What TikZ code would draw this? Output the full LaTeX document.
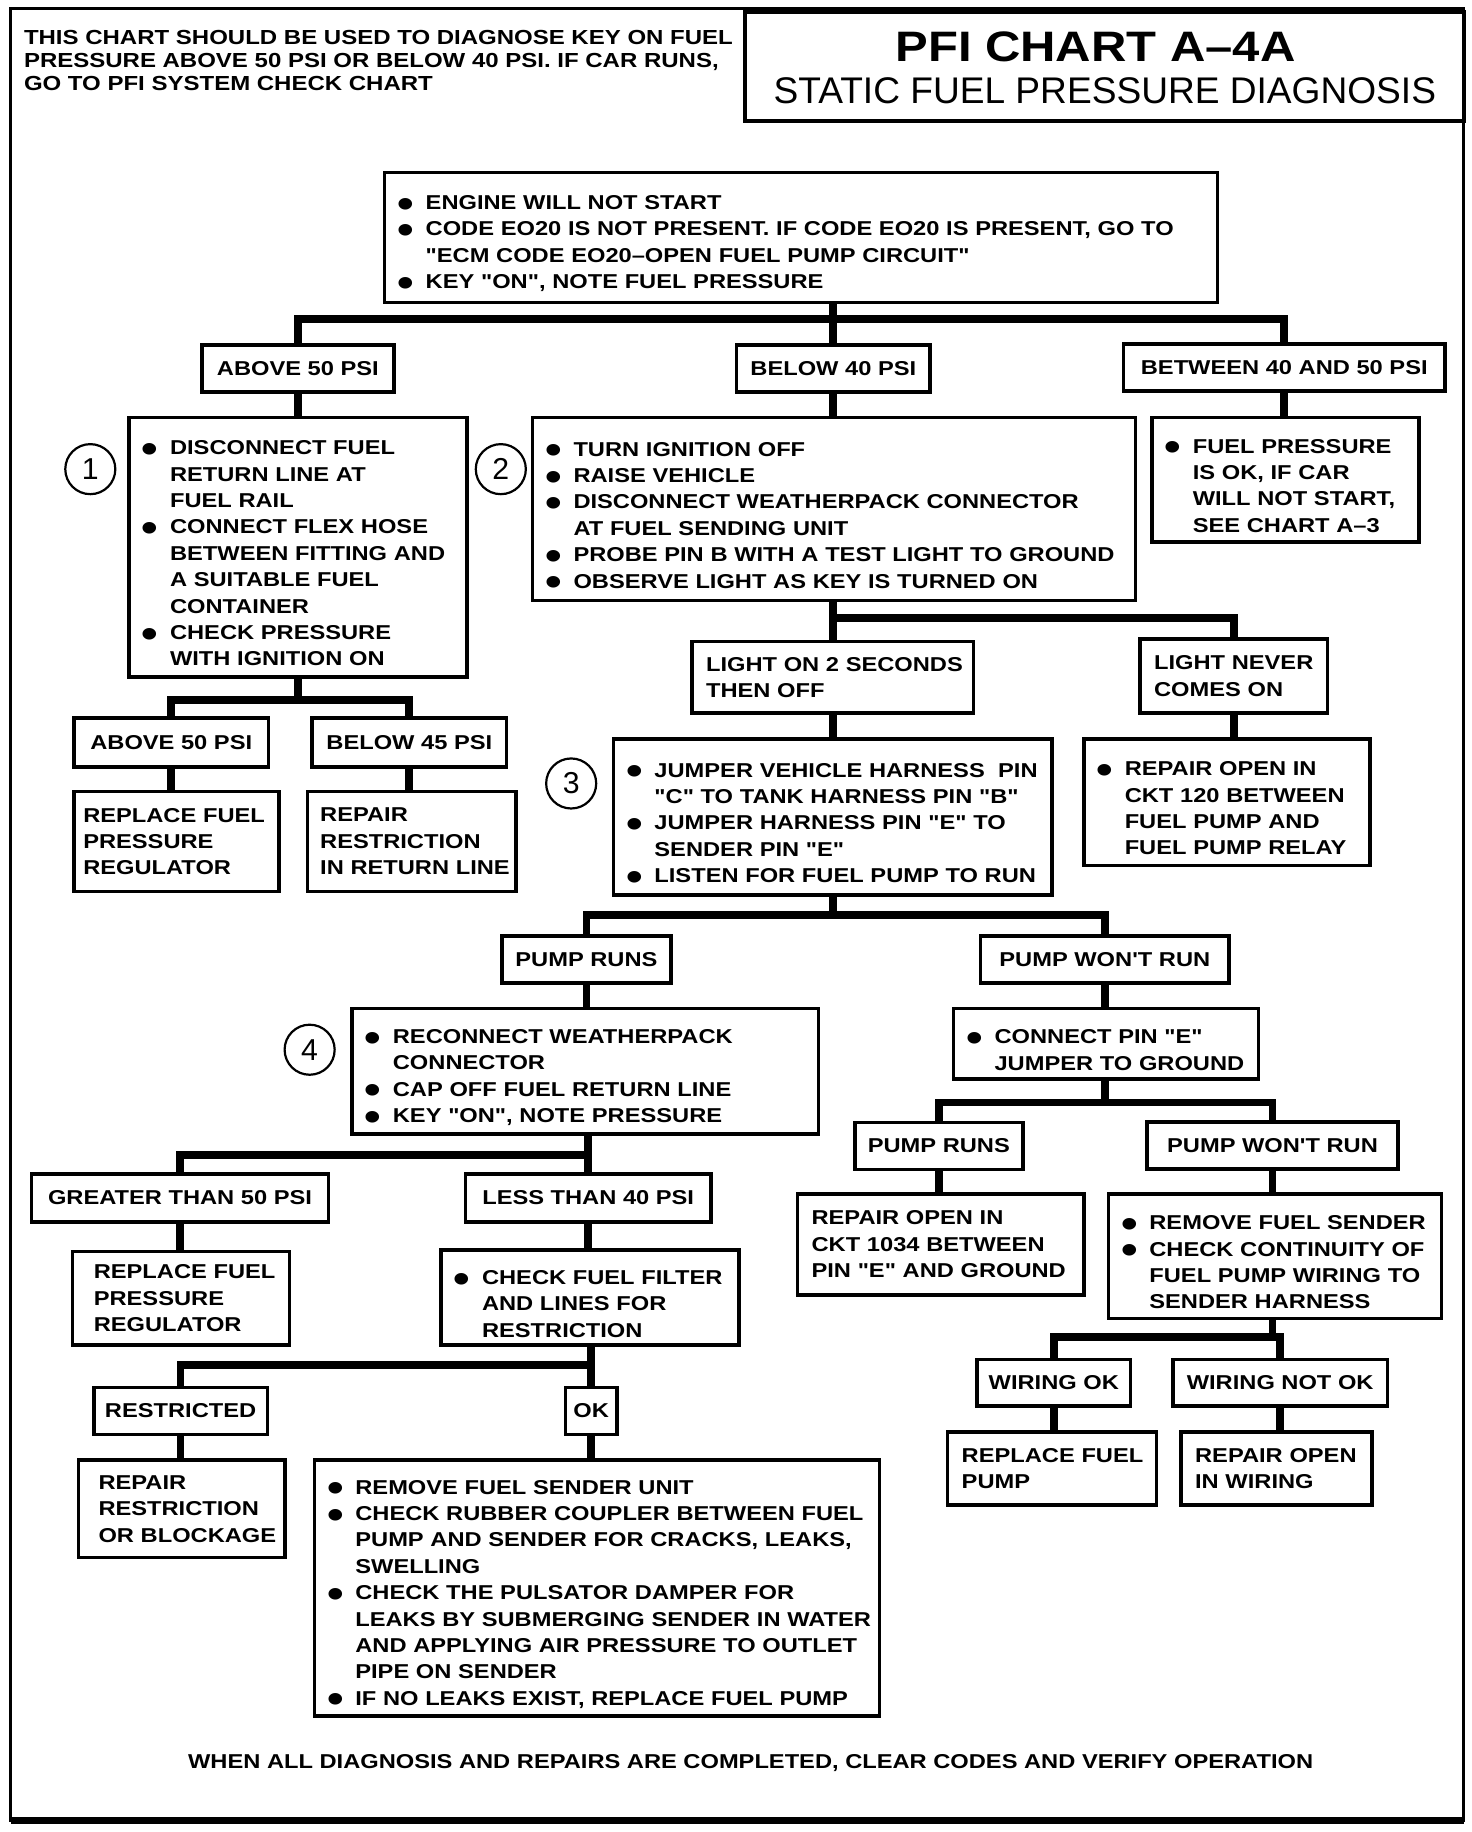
\documentclass[tikz,border=0pt]{standalone}
\usepackage{fontspec}
\usepackage{graphicx}
\setmainfont{Liberation Sans}
\newfontfamily\chartsans{Liberation Sans}[FakeStretch=1.18]
\newfontfamily\plainsans{Liberation Sans}
\newfontfamily\titlesans{Liberation Sans}[FakeStretch=1.15]

\newcommand{\bodyfont}{\chartsans\fontsize{7.3}{9.6}\selectfont\bfseries}
\newcommand{\headfont}{\chartsans\fontsize{7.4}{8.4}\selectfont\bfseries}
\newcommand{\titlefont}{\titlesans\fontsize{15.5}{16}\selectfont\bfseries}
\newcommand{\subtitlefont}{\plainsans\fontsize{13.5}{14}\selectfont}
\newcommand{\numfont}{\plainsans\fontsize{11}{12}\selectfont}
% bullet item with hanging indent, a line break that keeps it, and the closing of the last item
\newcommand{\bul}{\par\noindent\hangindent=0.36cm\hangafter=1\makebox[0.36cm][l]{\smash{\raisebox{-0.38em}{\scalebox{2}{\textbullet}}}}}
\newcommand{\nl}{\hfil\break}
\newcommand{\bulend}{\endgraf}

\begin{document}
\begin{tikzpicture}[x=0.015cm, y=-0.015cm,
    chartbox/.style={draw, line width=1.3pt, inner xsep=0.165cm, inner ysep=0pt, font=\bodyfont,
      execute at begin node={\parindent=0pt\rightskip=0pt plus 1fil minus 1cm\relax}},
    tagbox/.style={draw, line width=1.3pt, inner sep=0pt, minimum height=0.6cm, font=\bodyfont},
    link/.style={line width=2.8pt},
    stepnum/.style={circle, draw, line width=0.8pt, inner sep=0pt, minimum size=0.64cm, font=\numfont}]

    % page and heading
    \path[use as bounding box, fill=white] (0,0) rectangle (1255,1562);
    \draw[line width=1.2pt] (9,7) rectangle (1248,1552);
    \draw[line width=2.4pt] (9,1552) -- (1248,1552);
    \draw[line width=1.3pt] (635,10) rectangle (1248,103);
    \node[anchor=north west, inner sep=0pt, align=left, font=\headfont] (note) at (20,25.5)
        {THIS CHART SHOULD BE USED TO DIAGNOSE KEY ON FUEL\\PRESSURE ABOVE 50 PSI OR BELOW 40 PSI. IF CAR RUNS,\\GO TO PFI SYSTEM CHECK CHART};
    \node[inner sep=0pt, font=\titlefont] (title) at (934,40) {PFI CHART A\textendash 4A};
    \node[inner sep=0pt, font=\subtitlefont] (subtitle) at (942,77) {STATIC FUEL PRESSURE DIAGNOSIS};

    % first test
    \node[chartbox, minimum width=10.65cm, minimum height=1.665cm, text width=10.32cm] (start) at (683,202.5)
        {\bul ENGINE WILL NOT START
         \bul CODE EO20 IS NOT PRESENT. IF CODE EO20 IS PRESENT, GO TO\nl"ECM CODE EO20\textendash OPEN FUEL PUMP CIRCUIT"
         \bul KEY "ON", NOTE FUEL PRESSURE\bulend};
    \node[tagbox, minimum width=2.46cm] (above) at (254,314) {ABOVE 50 PSI};
    \node[tagbox, minimum width=2.475cm] (below) at (710.5,314) {BELOW 40 PSI};
    \node[tagbox, minimum width=4.11cm] (between) at (1095,313.5) {BETWEEN 40 AND 50 PSI};

    % step 1
    \node[stepnum] (n1) at (77,400) {1};
    \node[chartbox, minimum width=4.32cm, minimum height=3.315cm, text width=3.99cm] (disc) at (254,466.5)
        {\bul DISCONNECT FUEL\nl RETURN LINE AT\nl FUEL RAIL
         \bul CONNECT FLEX HOSE\nl BETWEEN FITTING AND\nl A SUITABLE FUEL\nl CONTAINER
         \bul CHECK PRESSURE\nl WITH IGNITION ON\bulend};
    \node[tagbox, minimum width=2.49cm, minimum height=0.63cm] (above2) at (146,633) {ABOVE 50 PSI};
    \node[tagbox, minimum width=2.49cm, minimum height=0.63cm] (below45) at (349,633) {BELOW 45 PSI};
    \node[chartbox, inner xsep=0.12cm, minimum width=2.625cm, minimum height=1.275cm, text width=2.385cm] (repreg1) at (150.5,717.5)
        {REPLACE FUEL\nl PRESSURE\nl REGULATOR};
    \node[chartbox, minimum width=2.67cm, minimum height=1.275cm, text width=2.34cm] (repret) at (351,717.5)
        {REPAIR\nl RESTRICTION\nl IN RETURN LINE};

    % step 2
    \node[stepnum] (n2) at (427,400) {2};
    \node[chartbox, minimum width=7.71cm, minimum height=2.34cm, text width=7.38cm] (turn) at (711,434)
        {\bul TURN IGNITION OFF
         \bul RAISE VEHICLE
         \bul DISCONNECT WEATHERPACK CONNECTOR\nl AT FUEL SENDING UNIT
         \bul PROBE PIN B WITH A TEST LIGHT TO GROUND
         \bul OBSERVE LIGHT AS KEY IS TURNED ON\bulend};
    \node[chartbox, minimum width=3.42cm, minimum height=1.59cm, text width=3.09cm] (pressok) at (1096,409)
        {\bul FUEL PRESSURE\nl IS OK, IF CAR\nl WILL NOT START,\nl SEE CHART A\textendash 3\bulend};
    \node[chartbox, inner xsep=0.18cm, minimum width=3.6cm, minimum height=0.915cm, text width=3.24cm] (lighton) at (710,577.5)
        {LIGHT ON 2 SECONDS\nl THEN OFF};
    \node[chartbox, inner xsep=0.18cm, minimum width=2.4cm, minimum height=0.945cm, text width=2.04cm] (lightnever) at (1052,576.5)
        {LIGHT NEVER\nl COMES ON};
    \node[chartbox, minimum width=3.66cm, minimum height=1.62cm, text width=3.33cm] (rep120) at (1046,684)
        {\bul REPAIR OPEN IN\nl CKT 120 BETWEEN\nl FUEL PUMP AND\nl FUEL PUMP RELAY\bulend};

    % step 3
    \node[stepnum] (n3) at (487,668) {3};
    \node[chartbox, minimum width=5.61cm, minimum height=1.995cm, text width=5.28cm] (harness) at (710,696.5)
        {\bul JUMPER VEHICLE HARNESS\ \ PIN\nl"C" TO TANK HARNESS PIN "B"
         \bul JUMPER HARNESS PIN "E" TO\nl SENDER PIN "E"
         \bul LISTEN FOR FUEL PUMP TO RUN\bulend};
    \node[tagbox, minimum width=2.16cm] (pumpruns) at (500,818) {PUMP RUNS};
    \node[tagbox, minimum width=3.18cm] (pumpwont) at (942,818) {PUMP WON'T RUN};

    % step 4
    \node[stepnum] (n4) at (264,895) {4};
    \node[chartbox, minimum width=5.97cm, minimum height=1.605cm, text width=5.64cm] (recon) at (499,913.5)
        {\bul RECONNECT WEATHERPACK\nl CONNECTOR
         \bul CAP OFF FUEL RETURN LINE
         \bul KEY "ON", NOTE PRESSURE\bulend};
    \node[tagbox, minimum width=3.795cm, minimum height=0.615cm] (greater) at (153.5,1021.5) {GREATER THAN 50 PSI};
    \node[tagbox, minimum width=3.135cm, minimum height=0.615cm] (less) at (501.5,1021.5) {LESS THAN 40 PSI};
    \node[chartbox, inner xsep=0.27cm, minimum width=2.775cm, minimum height=1.2cm, text width=2.235cm] (repreg2) at (154.5,1107)
        {REPLACE FUEL\nl PRESSURE\nl REGULATOR};
    \node[chartbox, minimum width=3.81cm, minimum height=1.215cm, text width=3.48cm] (filter) at (503,1106.5)
        {\bul CHECK FUEL FILTER\nl AND LINES FOR\nl RESTRICTION\bulend};
    \node[tagbox, minimum width=2.22cm] (restricted) at (154,1203) {RESTRICTED};
    \node[tagbox, minimum width=0.66cm] (okay) at (504,1203) {OK};
    \node[chartbox, inner xsep=0.255cm, minimum width=2.64cm, minimum height=1.245cm, text width=2.13cm] (repblock) at (155,1286.5)
        {REPAIR\nl RESTRICTION\nl OR BLOCKAGE};
    \node[chartbox, minimum width=7.23cm, minimum height=3.27cm, text width=6.9cm] (sender) at (509,1354)
        {\bul REMOVE FUEL SENDER UNIT
         \bul CHECK RUBBER COUPLER BETWEEN FUEL\nl PUMP AND SENDER FOR CRACKS, LEAKS,\nl SWELLING
         \bul CHECK THE PULSATOR DAMPER FOR\nl LEAKS BY SUBMERGING SENDER IN WATER\nl AND APPLYING AIR PRESSURE TO OUTLET\nl PIPE ON SENDER
         \bul IF NO LEAKS EXIST, REPLACE FUEL PUMP\bulend};

    % pump won't run side
    \node[chartbox, minimum width=3.9cm, minimum height=0.9cm, text width=3.57cm] (jumper) at (943,890)
        {\bul CONNECT PIN "E"\nl JUMPER TO GROUND\bulend};
    \node[tagbox, minimum width=2.145cm] (pumpruns2) at (800.5,977) {PUMP RUNS};
    \node[tagbox, minimum width=3.21cm] (pumpwont2) at (1085,976.5) {PUMP WON'T RUN};
    \node[chartbox, inner xsep=0.18cm, minimum width=3.66cm, minimum height=1.29cm, text width=3.3cm] (rep1034) at (802,1061)
        {REPAIR OPEN IN\nl CKT 1034 BETWEEN\nl PIN "E" AND GROUND};
    \node[chartbox, minimum width=4.26cm, minimum height=1.59cm, text width=3.93cm] (remove) at (1087,1071)
        {\bul REMOVE FUEL SENDER
         \bul CHECK CONTINUITY OF\nl FUEL PUMP WIRING TO\nl SENDER HARNESS\bulend};
    \node[tagbox, minimum width=1.965cm] (wiringok) at (898.5,1179) {WIRING OK};
    \node[tagbox, minimum width=2.745cm] (wiringbad) at (1091.5,1179) {WIRING NOT OK};
    \node[chartbox, inner xsep=0.18cm, minimum width=2.67cm, minimum height=0.93cm, text width=2.31cm] (reppump) at (897,1252)
        {REPLACE FUEL\nl PUMP};
    \node[chartbox, inner xsep=0.18cm, minimum width=2.445cm, minimum height=0.93cm, text width=2.085cm] (repwire) at (1088.5,1252)
        {REPAIR OPEN\nl IN WIRING};

    \node[inner sep=0pt, font=\bodyfont] (verify) at (640,1503)
        {WHEN ALL DIAGNOSIS AND REPAIRS ARE COMPLETED, CLEAR CODES AND VERIFY OPERATION};

    % connectors
    \coordinate (bus1) at (0,272);
    \draw[link] (start.south -| below.north) -- (below.north);
    \draw[link] (above.north) |- (bus1 -| between.north) -- (between.north);
    \draw[link] (above.south) -- (above.south |- disc.north);
    \draw[link] (below.south) -- (below.south |- turn.north);
    \draw[link] (between.south) -- (between.south |- pressok.north);

    \coordinate (bus2) at (0,597);
    \draw[link] (disc.south) -- (disc.south |- bus2);
    \draw[link] (above2.north) |- (bus2 -| below45.north) -- (below45.north);
    \draw[link] (above2.south) -- (above2.south |- repreg1.north);
    \draw[link] (below45.south) -- (below45.south |- repret.north);

    \coordinate (bus3) at (0,527);
    \draw[link] (turn.south -| lighton.north) -- (lighton.north);
    \draw[link] (lighton.north |- bus3) -| (lightnever.north);
    \draw[link] (lighton.south) -- (lighton.south |- harness.north);
    \draw[link] (lightnever.south) -- (lightnever.south |- rep120.north);

    \coordinate (bus4) at (0,780);
    \draw[link] (harness.south) -- (harness.south |- bus4);
    \draw[link] (pumpruns.north) |- (bus4 -| pumpwont.north) -- (pumpwont.north);
    \draw[link] (pumpruns.south) -- (pumpruns.south |- recon.north);
    \draw[link] (pumpwont.south) -- (pumpwont.south |- jumper.north);

    \coordinate (bus5) at (0,985);
    \draw[link] (recon.south -| less.north) -- (less.north);
    \draw[link] (greater.north) |- (bus5 -| less.north);
    \draw[link] (greater.south) -- (greater.south |- repreg2.north);
    \draw[link] (less.south) -- (less.south |- filter.north);

    \coordinate (bus6) at (0,1164);
    \draw[link] (filter.south -| okay.north) -- (okay.north);
    \draw[link] (restricted.north) |- (bus6 -| okay.north);
    \draw[link] (restricted.south) -- (restricted.south |- repblock.north);
    \draw[link] (okay.south) -- (okay.south |- sender.north);

    \coordinate (bus7) at (0,940);
    \draw[link] (jumper.south -| pumpwont.south) -- (pumpwont.south |- bus7);
    \draw[link] (pumpruns2.north) |- (bus7 -| pumpwont2.north) -- (pumpwont2.north);
    \draw[link] (pumpruns2.south) -- (pumpruns2.south |- rep1034.north);
    \draw[link] (pumpwont2.south) -- (pumpwont2.south |- remove.north);

    \coordinate (bus8) at (0,1140);
    \draw[link] (remove.south -| pumpwont2.south) -- (pumpwont2.south |- bus8);
    \draw[link] (wiringok.north) |- (bus8 -| wiringbad.north) -- (wiringbad.north);
    \draw[link] (wiringok.south) -- (wiringok.south |- reppump.north);
    \draw[link] (wiringbad.south) -- (wiringbad.south |- repwire.north);
\end{tikzpicture}
\end{document}
